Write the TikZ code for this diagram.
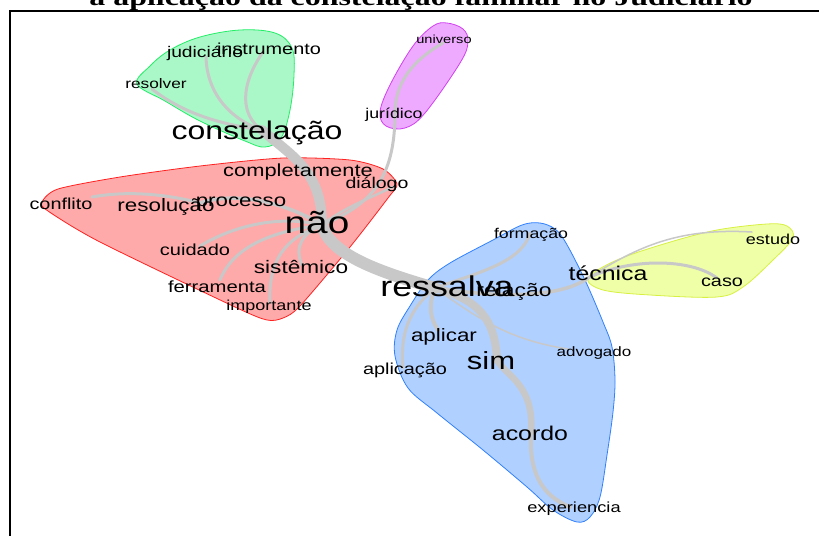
\documentclass[tikz,border=0pt]{standalone}
\usepackage{fontspec}
\setmainfont{Liberation Sans}
\newfontfamily\titlefont{Liberation Serif}

\definecolor{linkgray}{HTML}{C8C8C8}
\definecolor{greenfill}{HTML}{AAF8C8}
\definecolor{greenline}{HTML}{22EE66}
\definecolor{redfill}{HTML}{FFAAAA}
\definecolor{redline}{HTML}{FF2020}
\definecolor{purplefill}{HTML}{EEAAFF}
\definecolor{purpleline}{HTML}{D040F0}
\definecolor{bluefill}{HTML}{B0D0FF}
\definecolor{blueline}{HTML}{3080FF}
\definecolor{yellowfill}{HTML}{EEFFA8}
\definecolor{yellowline}{HTML}{D8F040}

\tikzset{
  word/.style={inner sep=0pt, xscale=1.25, font=\fontsize{#1}{#1}\selectfont},
  headline/.style={inner sep=0pt, xscale=1.33, font=\titlefont\bfseries\fontsize{24}{24}\selectfont},
  link/.style={draw=linkgray, line width=#1, line cap=round},
  blob/.style 2 args={draw=#1, fill=#2, line width=0.8pt},
}

\begin{document}
\begin{tikzpicture}[x=1pt, y=-1pt]
\useasboundingbox (0,0) rectangle (819,536);

% title, cut at the top of the page
\node[headline, anchor=base] (title) at (421,5) {a aplicação da constelação familiar no Judiciário};
\draw[line width=2pt] (819,11) -- (10,11) -- (10,536);

% clusters
\draw[blob={greenline}{greenfill}] plot[smooth cycle, tension=0.6] coordinates {
  (137,84) (150,66) (170,50) (200,37) (240,30) (275,33) (292,48) (294,75)
  (290,110) (281,138) (265,147) (245,141) (200,121) (165,101)};
\draw[blob={purpleline}{purplefill}] plot[smooth cycle, tension=0.6] coordinates {
  (447,23) (463,29) (468,42) (460,63) (425,113) (405,128) (386,126) (380,112)
  (390,85) (413,46) (433,26)};
\draw[blob={redline}{redfill}] plot[smooth cycle, tension=0.45] coordinates {
  (42,202) (58,189) (120,177) (200,166) (283,158) (350,160) (383,169) (397,184)
  (388,198) (350,247) (300,306) (283,318) (267,320) (235,307) (100,242) (48,211)};
\draw[blob={blueline}{bluefill}] plot[smooth cycle, tension=0.55] coordinates {
  (540,223) (555,229) (566,243) (585,280) (603,322) (612,347) (615,380) (613,412)
  (607,455) (600,497) (590,517) (577,522) (553,510) (527,487) (483,450) (437,413)
  (408,388) (395,356) (397,330) (410,306) (428,280) (450,263) (493,240) (522,225)};
\draw[blob={yellowline}{yellowfill}] plot[smooth cycle, tension=0.55] coordinates {
  (588,278) (617,260) (667,243) (717,230) (767,224) (787,226) (793,238) (773,260)
  (743,287) (717,297) (650,295) (603,290)};

% link ends
\coordinate (p-constelacao) at (262,130);
\coordinate (p-judiciario) at (206,57);
\coordinate (p-instrumento) at (263,52);
\coordinate (p-resolver) at (152,89);
\coordinate (p-nao) at (322,225);
\coordinate (p-resolucao) at (200,203);
\coordinate (p-conflito) at (92,197);
\coordinate (p-cuidado) at (200,246);
\coordinate (p-ferramenta) at (220,280);
\coordinate (p-importante) at (270,303);
\coordinate (p-sistemico) at (302,265);
\coordinate (p-dialogo) at (393,187);
\coordinate (p-juridico) at (395,113);
\coordinate (p-universo) at (443,43);
\coordinate (p-ressalva) at (435,288);
\coordinate (p-formacao) at (530,233);
\coordinate (p-tecnica) at (588,278);
\coordinate (p-caso) at (717,278);
\coordinate (p-estudo) at (752,232);
\coordinate (p-aplicar) at (438,330);
\coordinate (p-aplicacao) at (403,368);
\coordinate (p-advogado) at (568,349);
\coordinate (p-sim) at (497,360);
\coordinate (p-acordo) at (531,433);
\coordinate (p-experiencia) at (570,507);

% links
\draw[link=3pt] (p-judiciario) .. controls (207,95) and (232,120) .. (p-constelacao);
\draw[link=3pt] (p-instrumento) .. controls (240,85) and (240,115) .. (p-constelacao);
\draw[link=3pt] (p-resolver) .. controls (185,115) and (225,125) .. (p-constelacao);
\draw[link=10pt] (p-constelacao) .. controls (290,155) and (322,170) .. (p-nao);
\draw[link=12pt] (p-nao) .. controls (330,255) and (380,272) .. (p-ressalva);
\draw[link=3pt] (p-conflito) .. controls (130,190) and (170,195) .. (p-resolucao);
\draw[link=3.5pt] (p-resolucao) .. controls (240,190) and (290,205) .. (p-nao);
\draw[link=3pt] (p-cuidado) .. controls (235,225) and (280,215) .. (p-nao);
\draw[link=3pt] (p-ferramenta) .. controls (232,250) and (265,232) .. (p-nao);
\draw[link=3pt] (p-importante) .. controls (268,260) and (285,238) .. (p-nao);
\draw[link=3pt] (p-sistemico) .. controls (293,245) and (305,232) .. (p-nao);
\draw[link=2.5pt] (p-dialogo) .. controls (365,200) and (340,210) .. (p-nao);
\draw[link=3pt] (p-juridico) .. controls (395,180) and (370,205) .. (p-nao);
\draw[link=3pt] (p-universo) .. controls (410,62) and (395,85) .. (p-juridico);
\draw[link=3pt] (p-formacao) .. controls (522,262) and (480,272) .. (p-ressalva);
\draw[link=3.5pt] (p-ressalva) .. controls (500,298) and (560,298) .. (p-tecnica);
\draw[link=3pt] (p-tecnica) .. controls (630,258) and (690,258) .. (p-caso);
\draw[link=1.5pt] (p-tecnica) .. controls (640,245) and (680,228) .. (p-estudo);
\draw[link=4pt] (p-ressalva) .. controls (428,305) and (430,318) .. (p-aplicar);
\draw[link=3pt] (p-ressalva) .. controls (408,310) and (400,335) .. (p-aplicacao);
\draw[link=1.5pt] (p-ressalva) .. controls (480,320) and (510,340) .. (p-advogado);
\draw[link=8pt] (p-ressalva) .. controls (480,300) and (495,320) .. (p-sim);
\draw[link=6.5pt] (p-sim) .. controls (505,375) and (535,385) .. (p-acordo);
\draw[link=4pt] (p-acordo) .. controls (529,470) and (540,495) .. (p-experiencia);

% words
\node[word=15.4] (judiciario) at (205,53) {judiciário};
\node[word=15.9] (instrumento) at (269,49) {instrumento};
\node[word=13.8] (resolver) at (156,84) {resolver};
\node[word=25.6] (constelacao) at (257,133) {constelação};
\node[word=17.5] (completamente) at (298,172) {completamente};
\node[word=15.6] (dialogo) at (377,184) {diálogo};
\node[word=15.9] (conflito) at (61,204) {conflito};
\node[word=17.9] (resolucao) at (166,207) {resolução};
\node[word=17.8] (processo) at (241,204) {processo};
\node[word=31] (nao) at (317,223) {não};
\node[word=16] (cuidado) at (195,250) {cuidado};
\node[word=18.1] (sistemico) at (301,267) {sistêmico};
\node[word=16.2] (ferramenta) at (217,287) {ferramenta};
\node[word=14.4] (importante) at (269,307) {importante};
\node[word=11.7] (universo) at (444,39) {universo};
\node[word=14.2] (juridico) at (394,115) {jurídico};
\node[word=14.2] (formacao) at (531,235) {formação};
\node[word=28.6] (ressalva) at (447,286) {ressalva};
\node[word=18.3] (relacao) at (514,292) {relação};
\node[word=19.9] (tecnica) at (608,273) {técnica};
\node[word=17.9] (aplicar) at (444,337) {aplicar};
\node[word=13.6] (advogado) at (594,353) {advogado};
\node[word=24.8] (sim) at (491,361) {sim};
\node[word=15.9] (aplicacao) at (405,370) {aplicação};
\node[word=19.9] (acordo) at (530,433) {acordo};
\node[word=14.6] (experiencia) at (574,509) {experiencia};
\node[word=14.4] (estudo) at (773,239) {estudo};
\node[word=15.9] (caso) at (722,282) {caso};
\end{tikzpicture}
\end{document}
